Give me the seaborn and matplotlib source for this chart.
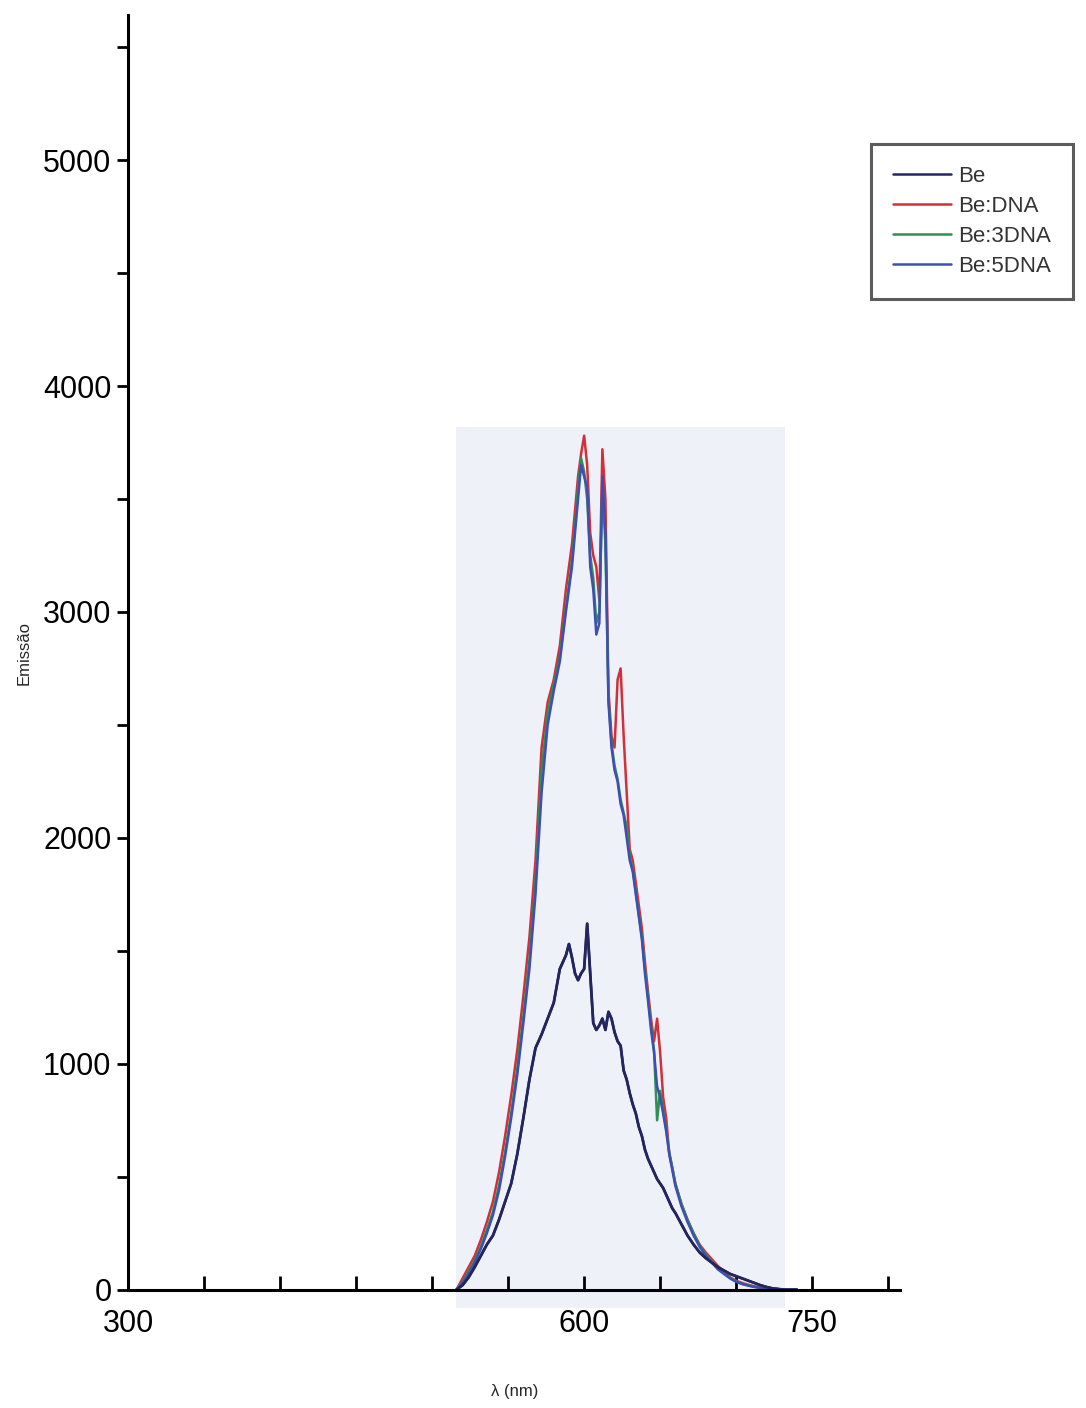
import numpy as np
import pandas as pd
import matplotlib
matplotlib.use("Agg")
import matplotlib.pyplot as plt
from matplotlib.patches import Rectangle
from matplotlib.lines import Line2D
from matplotlib.ticker import MultipleLocator, FixedLocator
import seaborn as sns

# ---------------- data ----------------
wavelength = [516, 520, 524, 528, 532, 536, 540, 544, 548, 552, 556, 560, 564, 568, 572, 576, 580, 584, 588,
              590, 592, 594, 596, 598, 600, 602, 604, 606, 608, 610, 612, 614, 616, 618, 620, 622, 624, 626,
              628, 630, 632, 634, 636, 638, 640, 642, 644, 646, 648, 650, 652, 654, 656, 658, 660,
              664, 668, 672, 676, 680, 684, 688, 692, 696, 700, 704, 708, 712, 716, 720, 724, 728, 732, 736, 740]

be = [0, 20, 55, 100, 150, 200, 240, 310, 390, 470, 600, 760, 930, 1070, 1130, 1200, 1270, 1420, 1480,
      1530, 1470, 1400, 1370, 1400, 1420, 1620, 1400, 1180, 1150, 1170, 1200, 1150, 1230, 1200, 1140, 1100, 1080, 970,
      930, 870, 820, 780, 720, 680, 620, 580, 550, 520, 490, 470, 450, 420, 390, 360, 340,
      290, 240, 200, 165, 140, 120, 100, 85, 70, 60, 50, 40, 30, 20, 12, 6, 3, 0, 0, 0]

be_dna = [0, 50, 100, 150, 220, 300, 390, 520, 680, 860, 1060, 1300, 1560, 1900, 2400, 2600, 2700, 2850, 3100,
          3200, 3300, 3450, 3600, 3700, 3780, 3650, 3350, 3250, 3200, 3050, 3720, 3500, 2650, 2450, 2400, 2700, 2750, 2450,
          2200, 1950, 1900, 1800, 1700, 1600, 1450, 1320, 1200, 1100, 1200, 1050, 850, 760, 600, 540, 470,
          380, 310, 250, 200, 165, 135, 105, 80, 55, 40, 30, 22, 15, 10, 6, 4, 2, 0, 0, 0]

be_3dna = [0, 35, 80, 130, 190, 265, 345, 460, 610, 780, 980, 1210, 1460, 1800, 2300, 2550, 2680, 2800, 3020,
           3120, 3230, 3380, 3550, 3680, 3620, 3500, 3250, 3150, 2950, 3000, 3550, 3300, 2620, 2420, 2320, 2260, 2170, 2110,
           2050, 1920, 1860, 1760, 1660, 1560, 1420, 1300, 1170, 1060, 750, 880, 790, 710, 610, 540, 470,
           380, 310, 250, 195, 155, 125, 95, 72, 52, 37, 26, 19, 13, 9, 6, 4, 2, 0, 0, 0]

be_5dna = [0, 30, 70, 120, 180, 250, 330, 440, 590, 760, 950, 1180, 1420, 1750, 2200, 2500, 2650, 2780, 3000,
           3100, 3200, 3350, 3500, 3650, 3600, 3550, 3200, 3100, 2900, 2950, 3600, 3350, 2600, 2400, 2300, 2250, 2150, 2100,
           2000, 1900, 1850, 1750, 1650, 1550, 1400, 1280, 1150, 1050, 900, 850, 780, 700, 600, 530, 460,
           370, 300, 240, 190, 150, 120, 90, 70, 50, 35, 25, 18, 12, 8, 5, 3, 2, 0, 0, 0]

series_names = ["Be", "Be:DNA", "Be:3DNA", "Be:5DNA"]
series_values = [be, be_dna, be_3dna, be_5dna]
x_tick_values = [300, 600, 750]
y_tick_values = [0, 1000, 2000, 3000, 4000, 5000]

# ---------------- build long table ----------------
frames = []
for name, vals in zip(series_names, series_values):
    frames.append(pd.DataFrame({"wl": wavelength, "em": vals, "serie": name}))
df = pd.concat(frames, ignore_index=True)

palette = {"Be": "#23265e", "Be:DNA": "#d0303a", "Be:3DNA": "#2f8f55", "Be:5DNA": "#3f4fb0"}

sns.set_style("white")
plt.rcParams["font.family"] = ["Liberation Sans", "DejaVu Sans"]

fig = plt.figure(figsize=(10.86, 14.08), dpi=100)
ax = fig.add_axes([0.118, 0.084, 0.711, 0.905])

# pale scanned insert behind the curves
ax.add_patch(Rectangle((516, -80), 216, 3900, facecolor="#eff1f8", edgecolor="none",
                       zorder=0, clip_on=False))

sns.lineplot(data=df, x="wl", y="em", hue="serie", palette=palette, hue_order=series_names,
             ax=ax, linewidth=1.8, legend=False, sort=False, estimator=None)
# redraw the lower Be curve on top
sns.lineplot(data=df[df["serie"] == "Be"], x="wl", y="em", color=palette["Be"], ax=ax,
             linewidth=2.0, legend=False, sort=False, estimator=None)

ax.set_xlim(300, 808)
ax.set_ylim(0, 5640)

for s in ["top", "right"]:
    ax.spines[s].set_visible(False)
for s in ["left", "bottom"]:
    ax.spines[s].set_color("black")
    ax.spines[s].set_linewidth(2.2)

ax.xaxis.set_major_locator(FixedLocator(x_tick_values))
ax.xaxis.set_minor_locator(MultipleLocator(50))
ax.yaxis.set_major_locator(FixedLocator(y_tick_values))
ax.yaxis.set_minor_locator(MultipleLocator(500))

ax.tick_params(axis="x", which="both", direction="in", length=10, width=2, color="black",
               labelsize=22, pad=14, bottom=True, labelcolor="black")
ax.tick_params(axis="y", which="both", direction="out", length=8, width=2, color="black",
               labelsize=22, pad=4, left=True, labelcolor="black")

ax.set_xlabel("λ (nm)", fontsize=12, labelpad=32)
ax.set_ylabel("Emissão", fontsize=12)
ax.yaxis.set_label_coords(-0.125, 0.5)

# legend
handles = [Line2D([0], [0], color=palette[n], lw=1.8) for n in series_names]
leg = fig.legend(handles, series_names, loc="upper left", bbox_to_anchor=(0.802, 0.898),
                 frameon=True, fontsize=16, handlelength=2.6, handletextpad=0.3,
                 labelspacing=0.4, borderpad=1.0, borderaxespad=0.0, fancybox=False)
leg.get_frame().set_edgecolor("#333333")
leg.get_frame().set_linewidth(2.2)
for t in leg.get_texts():
    t.set_color("#333333")

fig.savefig("out.png", dpi=100)
